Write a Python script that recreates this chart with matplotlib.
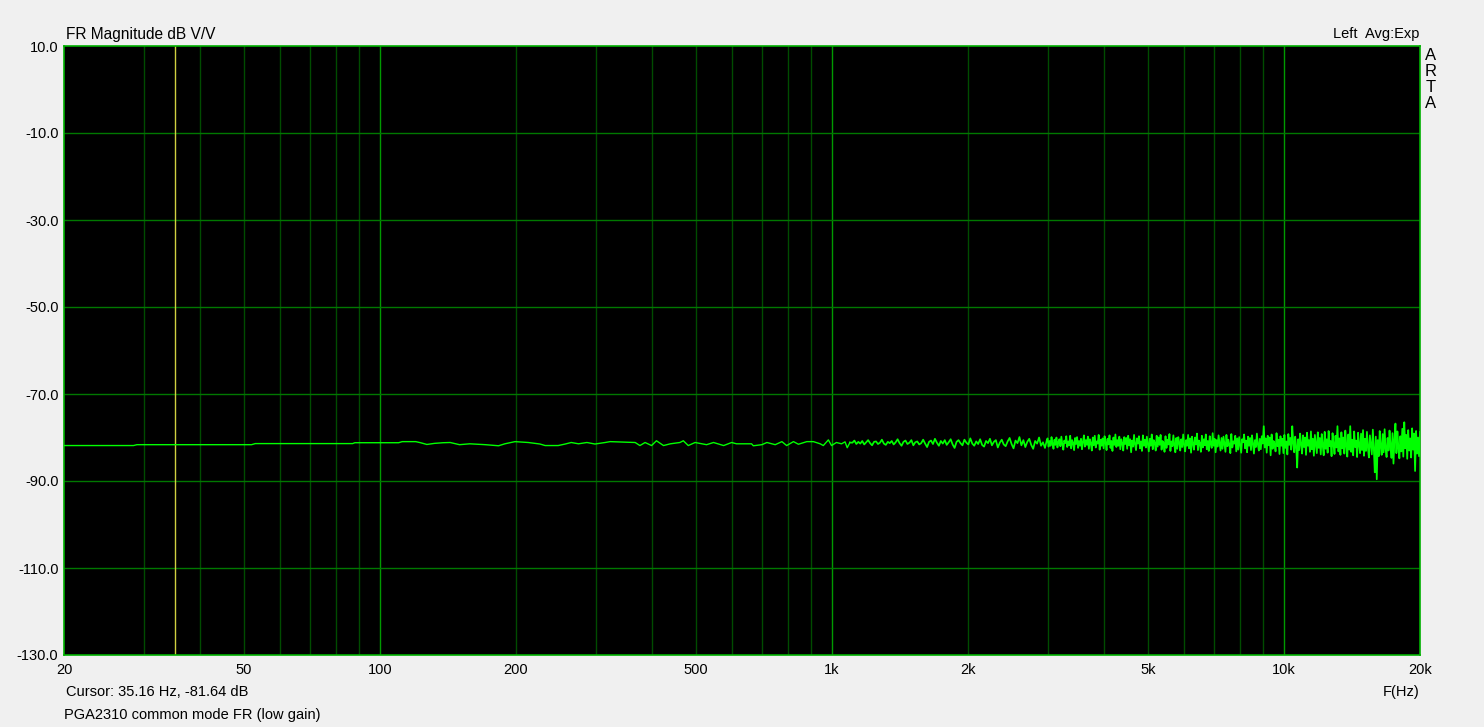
import numpy as np
import matplotlib
matplotlib.use("Agg")
import matplotlib.pyplot as plt

plt.rcParams["font.family"] = ["Liberation Sans", "DejaVu Sans"]

freq_low = [20, 28.5, 29, 52, 53, 87, 88, 110, 112, 120, 123, 127, 132, 138,
            143, 150, 158, 171, 183, 189, 199, 213, 226, 232, 248, 257, 265,
            275, 287, 299, 315, 323, 367, 376, 386, 399, 409, 424, 439, 461,
            469, 481, 498, 528, 547, 576, 600, 615, 664, 670, 700, 718, 749,
            775, 794, 822, 843, 880, 910, 942, 957, 982, 998, 1023, 1050,
            1069, 1081, 1096]
mag_low = [-81.85, -81.85, -81.65, -81.65, -81.4, -81.4, -81.2, -81.2, -80.95,
           -80.95, -81.2, -81.6, -81.35, -81.2, -81.15, -81.65, -81.45, -81.65,
           -81.9, -81.45, -80.95, -81.15, -81.5, -81.85, -81.85, -81.5, -81.15,
           -81.45, -81.15, -81.5, -81.15, -80.95, -81.15, -81.85, -81.15,
           -81.85, -80.75, -81.85, -81.45, -81.15, -80.75, -81.85, -81.15,
           -81.65, -81.15, -81.85, -81.15, -81.45, -81.45, -81.9, -81.65,
           -81.15, -81.65, -80.95, -81.85, -80.95, -81.55, -80.95, -80.95,
           -81.45, -81.85, -80.55, -81.85, -81.15, -81.45, -81.0, -82.35,
           -81.15]

# 1.1k - 3k
mag_mid = [
    -81.2, -80.7, -81.5, -81.0, -81.4, -80.8, -81.6, -81.1, -80.6, -81.3, -81.8, -81.0, -80.9, -81.5, -81.2, -80.5, -81.4, -81.7, -81.0, -81.3,
    -80.8, -81.6, -81.1, -80.4, -81.3, -81.9, -81.0, -80.7, -81.5, -81.2, -80.6, -81.8, -81.1, -80.9, -81.6, -81.3, -80.5, -81.4, -82.2, -81.0,
    -80.7, -81.5, -80.3, -81.2, -81.9, -80.8, -81.4, -80.6, -81.7, -81.1, -80.4, -81.6, -82.4, -81.0, -80.6, -81.3, -81.8, -80.5, -81.2, -81.6,
    -80.2, -81.4, -81.9, -80.9, -81.5, -80.4, -81.7, -82.1, -80.8, -81.3, -80.3, -81.8, -81.0, -80.6, -82.3, -81.2, -80.5, -81.6, -82.0, -80.9,
    -80.1, -81.5, -82.5, -80.7, -81.3, -79.9, -81.8, -80.6, -82.2, -81.0, -80.3, -81.7, -82.6, -80.8, -81.4, -80.0, -81.9, -81.1, -82.4, -80.5,
]

# 3k - 20k
mag_high = [
    -80.2, -82.1, -80.8, -81.9, -79.9, -81.4, -82.6, -80.5, -81.7, -80.0, -82.3, -81.1, -80.4, -82.0, -79.8, -81.6, -82.8, -80.7, -81.3, -79.7,
    -82.2, -80.9, -81.8, -79.6, -82.5, -80.6, -81.2, -82.9, -80.1, -81.5, -79.9, -82.4, -80.8, -81.9, -80.3, -82.7, -81.0, -79.5, -82.1, -80.6,
    -81.7, -79.8, -82.6, -80.4, -81.3, -83.0, -80.0, -81.8, -79.6, -82.3, -80.9, -81.4, -79.4, -82.8, -80.5, -81.9, -80.2, -82.5, -79.7, -81.1,
    -82.9, -80.3, -81.6, -79.5, -82.4, -80.8, -83.1, -80.0, -81.7, -79.3, -82.2, -80.6, -81.9, -79.8, -82.7, -80.4, -81.3, -83.0, -79.9, -81.5,
    -80.1, -82.6, -79.6, -81.8, -80.4, -83.4, -80.7, -82.1, -79.4, -81.6, -82.9, -80.2, -81.4, -79.7, -82.5, -80.9, -83.1, -79.5, -81.9, -80.5,
    -82.3, -79.8, -81.5, -83.2, -80.3, -81.9, -79.3, -82.7, -80.6, -81.2, -83.0, -79.6, -82.1, -80.0, -81.7, -79.4, -82.8, -80.8, -81.3, -83.3,
    -79.7, -82.4, -80.5, -81.6, -79.2, -83.1, -80.9, -82.0, -79.5, -81.8, -83.4, -80.1, -82.6, -79.9, -81.2, -83.0, -80.4, -82.2, -79.3, -81.7,
    -83.2, -80.6, -81.9, -79.4, -82.5, -80.2, -83.5, -79.8, -81.4, -82.8, -80.0, -81.6, -79.1, -82.9, -80.7, -81.3, -83.3, -79.6, -82.3, -80.4,
    -81.8, -79.3, -82.7, -80.8, -83.1, -79.7, -81.5, -82.4, -79.0, -81.9, -80.3, -83.4, -80.6, -82.1, -79.5, -81.2, -83.0, -80.1, -82.6, -79.8,
    -81.6, -83.3, -79.4, -82.0, -80.5, -81.7, -83.6, -79.2, -82.3, -80.9, -81.4, -79.6, -83.2, -80.2, -82.8, -79.9, -81.8, -83.5, -80.4, -81.1,
    -79.3, -82.5, -80.7, -83.4, -79.8, -81.9, -80.1, -82.9, -79.5, -81.3, -83.7, -80.6, -82.2, -79.1, -81.6, -83.0, -80.3, -82.7, -79.7, -81.4,
    -77.4, -82.3, -80.2, -83.5, -79.6, -81.8, -80.0, -84.1, -79.3, -82.6, -80.8, -81.5, -83.2, -79.0, -82.0, -80.5, -83.8, -79.7, -81.9, -80.3,
    -83.6, -79.4, -82.4, -80.9, -83.9, -79.2, -81.7, -80.1, -82.8, -77.4, -81.3, -83.4, -79.8, -82.1, -86.9, -80.4, -82.9, -79.1, -81.6, -83.7,
    -79.5, -82.2, -80.0, -84.0, -78.9, -81.9, -80.6, -83.3, -78.6, -82.7, -80.3, -84.2, -79.4, -81.5, -83.6, -78.8, -82.4, -80.1, -83.9, -79.2,
    -81.8, -84.1, -78.7, -82.6, -80.4, -83.5, -78.5, -82.0, -80.8, -84.3, -79.0, -81.6, -83.8, -79.6, -82.3, -77.4, -83.2, -80.2, -84.0, -78.8,
    -82.5, -80.0, -83.7, -78.4, -81.9, -84.4, -79.3, -82.8, -77.4, -83.3, -80.5, -84.1, -78.6, -82.2, -80.7, -84.5, -78.9, -81.7, -83.6, -79.1,
    -82.9, -78.3, -84.2, -80.3, -83.1, -78.7, -82.4, -84.6, -79.5, -81.8, -83.9, -78.2, -82.6, -88.0, -79.8, -89.6, -80.6, -84.3, -78.5, -82.1,
    -84.0, -79.2, -83.4, -78.1, -82.7, -84.5, -80.1, -83.0, -78.4, -81.9, -84.7, -79.0, -86.0, -80.4, -76.8, -83.6, -78.6, -82.3, -84.8, -79.7,
    -83.2, -78.0, -84.4, -76.5, -82.5, -79.4, -84.9, -78.3, -83.0, -80.2, -84.6, -77.9, -82.8, -79.1, -87.7, -78.5, -83.7, -80.0, -84.3, -78.7,
]

cursor_freq = 35.16
cursor_db = -81.64

x_ticks = [20, 50, 100, 200, 500, 1000, 2000, 5000, 10000, 20000]
x_labels = ["20", "50", "100", "200", "500", "1k", "2k", "5k", "10k", "20k"]
y_ticks = [10, -10, -30, -50, -70, -90, -110, -130]

freq_mid = np.geomspace(1110, 2990, len(mag_mid))
freq_high = np.geomspace(3000, 20000, len(mag_high))
freq = np.concatenate([freq_low, freq_mid, freq_high])
mag = np.concatenate([mag_low, mag_mid, mag_high])

W, H = 1484, 727
fig = plt.figure(figsize=(W / 100, H / 100), dpi=100, facecolor="#f0f0f0")
ax = fig.add_axes([64 / W, 1 - 655 / H, 1356 / W, 609 / H])
ax.set_facecolor("black")

ax.set_xscale("log")
ax.set_xlim(20, 20000)
ax.set_ylim(-130, 10)

# grid
for d in [30, 40, 50, 60, 70, 80, 90, 200, 300, 400, 500, 600, 700, 800, 900,
          2000, 3000, 4000, 5000, 6000, 7000, 8000, 9000]:
    ax.axvline(d, color="#004c00", lw=1, zorder=1)
for d in [100, 1000, 10000]:
    ax.axvline(d, color="#009a00", lw=1, zorder=1)
for v in y_ticks[1:-1]:
    ax.axhline(v, color="#007800", lw=1, zorder=1)

ax.axvline(cursor_freq, color="#d0d040", lw=1, zorder=2)
n = len(freq_low)
ax.plot(freq[:n], mag[:n], color="#00ff00", lw=1, zorder=3)
ax.plot(freq[n - 1:], mag[n - 1:], color="#00ff00", lw=1.25, zorder=3)

for s in ax.spines.values():
    s.set_color("#00b000")
    s.set_linewidth(1.2)

ax.set_xticks(x_ticks)
ax.set_xticklabels(x_labels)
ax.xaxis.set_minor_locator(matplotlib.ticker.NullLocator())
ax.set_yticks(y_ticks)
ax.set_yticklabels(["%.1f" % v for v in y_ticks])
ax.tick_params(length=0, labelsize=10.5, colors="black", pad=4)
ax.tick_params(axis="x", pad=6)

fs = 10.5
fig.text(66 / W, 1 - 34 / H, "FR Magnitude dB V/V", fontsize=11.2, va="center")
fig.text(1419 / W, 1 - 34 / H, "Left  Avg:Exp", fontsize=fs, ha="right", va="center")
for i, ch in enumerate("ARTA"):
    fig.text(1431 / W, 1 - (56 + i * 16) / H, ch, fontsize=12, ha="center", va="center")
fig.text(66 / W, 1 - 692 / H, "Cursor: %.2f Hz, %.2f dB" % (cursor_freq, cursor_db),
         fontsize=fs, va="center")
fig.text(1419 / W, 1 - 692 / H, "F(Hz)", fontsize=fs, ha="right", va="center")
fig.text(64 / W, 1 - 715 / H, "PGA2310 common mode FR (low gain)", fontsize=fs, va="center")

fig.savefig("out.png", dpi=100, facecolor=fig.get_facecolor())
